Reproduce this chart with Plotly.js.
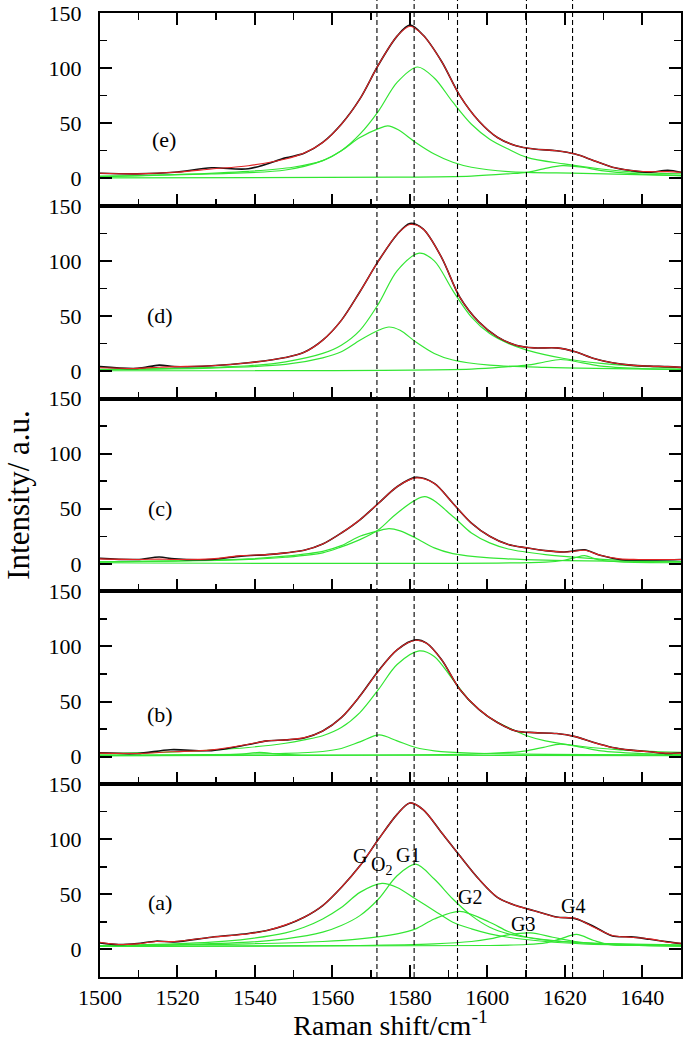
<!DOCTYPE html>
<html>
<head>
<meta charset="utf-8">
<script src="https://cdn.plot.ly/plotly-3.0.1.min.js"></script>
<style>html,body{margin:0;padding:0;background:#fff;}#chart{width:685px;height:1041px;}</style>
</head>
<body>
<div id="chart"></div>
<script>
// ---------- Panel (e) ----------
const eX = [1500,1509.6,1519.2,1528.8,1538.3,1547.9,1552.7,1557.5,1562.3,1567.1,1571.9,1576.7,1580,1583.4,1588.2,1592.9,1597.8,1602.6,1607.4,1612.1,1617.9,1622.7,1627.5,1632.3,1637.1,1641.9,1646.6,1650];
const eFit = [4.5,4,5.4,8.4,11.4,17.5,23,32.5,49,72,103,129,138,130,106,75,52,37,29.5,26.5,25,22,16,10,7,6,6,5.4];
const eRaw = [4.5,4,5.4,9.5,8.6,18.5,22.6,32.5,49,72,103,129,139,130,106,75,52,37,29.5,26.5,25,22,16,10,7,5.4,7.2,5.4];
const eG1x = [1500,1519.2,1538.3,1549.8,1557.5,1562.3,1567.1,1571.9,1576.7,1582,1586.3,1591.1,1595.9,1600.6,1605.4,1610.2,1619.8,1629.4,1639,1650];
const eG1y = [1.5,3.3,6.3,10,16,25,40,61,87,101,91,69,49,35.5,26.5,19,13,8.4,5.4,4];
const eG2x = [1500,1528.8,1547.9,1557.5,1562.3,1567.1,1571.9,1574.3,1577,1581.5,1586.3,1591.1,1595.9,1605.4,1624.6,1650];
const eG2y = [2,4,7.5,16,25,37,45,47.6,44,32.5,22,14.5,10,6,4.5,2.4];
const eG3x = [1500,1576.7,1595.9,1605.4,1610.2,1614.5,1619.3,1624.6,1629.4,1639,1650];
const eG3y = [0.3,1,2,4,5.4,8.5,11.4,10,7,4,2.4];

// ---------- Panel (d) ----------
const dX = [1500,1509.6,1515.3,1519.2,1528.8,1538.3,1547.9,1552.7,1557.5,1562.3,1567.1,1571.9,1576.7,1580,1583.4,1588.2,1592.9,1597.8,1602.6,1607.4,1612.1,1617.9,1622.7,1627.5,1632.3,1637.1,1641.9,1646.6,1650];
const dFit = [3,2.4,3.5,4,4.8,7.5,12.3,17,28,46,72,100,124,133,129,103,67,44.6,31,23.5,21,21,17.5,11.4,7.5,5.4,4.5,4,3.3];
const dRaw = [4,2.4,5.4,4,4.8,7.5,12.3,17,28,46,72,100,124,134,129,103,67,44.6,31,23.5,21,21,17.5,11.4,7.5,5.4,4.5,4,3.3];
const dG1x = [1500,1519.2,1538.3,1547.9,1557.5,1562.3,1567.1,1571.9,1576.7,1582.4,1586.3,1591.1,1595.9,1600.6,1605.4,1610.2,1619.8,1629.4,1639,1650];
const dG1y = [1,2.4,4.8,8.4,16,23.5,37,61,91,107,100,73,49,34,25,19,11.4,7,4.5,3];
const dG2x = [1500,1528.8,1547.9,1557.5,1562.3,1567.1,1571.9,1574.6,1577.5,1581.5,1586.3,1591.1,1600.6,1615,1650];
const dG2y = [1.5,2.7,6,12,17.5,28,37,40,37,26.5,16,10,5.4,3.3,1.5];
const dG3x = [1500,1595.9,1605.4,1610.2,1614.5,1618.9,1624.6,1629.4,1639,1650];
const dG3y = [0.3,1.8,4,5.4,8,10.5,7.5,4.5,2.4,1.5];

// ---------- Panel (c) ----------
const cX = [1500,1509.6,1515.3,1519.2,1528.8,1536.4,1543.1,1547.9,1552.7,1557.5,1562.3,1567.1,1571.9,1576.7,1581.5,1586.3,1591.1,1595.9,1600.6,1605.4,1610.2,1615,1619.8,1622.5,1625.1,1629.4,1634.2,1639,1650];
const cFit = [4.5,4,4.3,4,4.5,7.5,8.4,10,12.3,18,28,40,55,70,78,73,55,37,25,17.5,14.5,12,10.8,11.5,12.3,7.5,4.5,4,4];
const cRaw = [5,4,6.2,4.5,4,7,8.4,10,12.3,18,28,40,55,70,78.5,73,55,37,25,17.5,14.5,12,10.8,11.8,12.8,7.5,4,3.5,4];
const cG1x = [1500,1519.2,1538.3,1547.9,1557.5,1562.3,1567.1,1571.9,1576.7,1583.9,1591.1,1595.9,1600.6,1605.4,1615,1624.6,1634.2,1650];
const cG1y = [1.8,2.4,4,6,10,15.4,22,31,46,61,43,28,19,13.5,8.4,5.4,3.3,2];
const cG2x = [1500,1519.2,1538.3,1547.9,1557.5,1562.3,1567.1,1571.9,1574.6,1577.5,1581.5,1586.3,1591.1,1600.6,1615,1650];
const cG2y = [1.8,2.7,4.5,7,11.4,16.5,25,30,32,30,23.5,14.5,9.3,5.4,3.3,2];
const cG3x = [1500,1615,1619.8,1622.5,1625.1,1627.5,1629.4,1634.2,1650];
const cG3y = [1,1.6,3.3,5.5,7.5,5,3.3,1.8,1];

// ---------- Panel (b) ----------
const bX = [1500,1509.6,1518.2,1528.8,1538.3,1543.1,1547.9,1552.7,1557.5,1562.3,1567.1,1571.9,1576.7,1581.5,1584.3,1588.2,1592.9,1597.8,1602.6,1607.4,1612.1,1617.9,1622.7,1627.5,1632.3,1637.1,1641.9,1646.6,1650];
const bFit = [3.2,2.9,4.4,6.2,11.3,14.3,15.2,17.3,23.3,35.4,55,77.6,97,105.6,103,88,61,43,31,23.3,21.8,21,18.2,12.8,8.3,5.9,4.4,3.2,3.2];
const bRaw = [3.5,2.9,6.3,5.5,11,14.3,15.2,17,23.3,35.4,55,78,97,106,103,88,61,43,31,23.3,21.8,21,18.2,12.8,8.3,5.9,4.4,2.9,3.5];
const bG1x = [1500,1519.2,1528.8,1538.3,1547.9,1552.7,1557.5,1562.3,1567.1,1571.9,1576.7,1582.4,1586.3,1591.1,1595.9,1600.6,1605.4,1610.2,1615,1624.6,1634.2,1650];
const bG1y = [2.9,4.4,5.9,8.3,12.2,15.2,19,26.4,40,61,83.6,96,91,70,49,35.4,26.4,19,14.3,9.2,6.2,3.8];
const bG2x = [1500,1547.9,1557.5,1562.3,1567.1,1572.1,1576.7,1581.5,1586.3,1595.9,1650];
const bG2y = [1.7,2.9,4.7,7.4,13.4,19.7,14.3,8.3,5.3,3.2,1.7];
const bG3x = [1500,1530,1536.4,1541.2,1546,1552,1650];
const bG3y = [1,1.5,2.3,3.8,2.3,1.5,1];
const bG4x = [1500,1595.9,1605.4,1610.2,1614.5,1618.9,1624.6,1629.4,1639,1650];
const bG4y = [1,2.3,3.8,5.3,8.5,11.3,8.3,5.3,2.9,1.7];

// ---------- Panel (a) ----------
const aX = [1500,1504.8,1509.6,1514.4,1519.2,1528.8,1538.3,1543.1,1547.9,1552.7,1557.5,1562.3,1567.1,1571.9,1576.7,1580,1583.4,1588.2,1592.9,1597.8,1602.6,1607.4,1612.1,1617.9,1622.7,1627.5,1632.3,1637.1,1641.9,1646.6,1650];
const aFit = [6.6,4.5,5.1,7.2,7.2,11.1,14.2,17.2,22.3,29.2,39.8,56.3,75.9,100,122.6,133,127,106,85,63.9,47.3,39.8,35.2,29.2,28.3,20.2,12.7,11.1,9.6,6.6,5.7];
const aRaw = [6,4.5,5.4,7.5,6.9,11.1,14.5,17.2,22,29.2,39.8,56.3,75.9,100,122.6,133,127,106,85,63.9,47.3,39.8,35.2,29.5,28,20.8,12.2,11.4,9.2,6.9,5.4];
const aGO2x = [1500,1519.2,1528.8,1538.3,1547.9,1552.7,1557.5,1562.3,1567.1,1572.8,1576.7,1581.5,1586.3,1591.1,1595.9,1600.6,1605.4,1615,1624.6,1634.2,1650];
const aGO2y = [3.6,5.1,6.6,9.6,15,20.2,27.7,38,51.8,60,56.3,45.8,35.2,24.7,18.7,14.2,11.1,7.2,5.1,4.2,3];
const aG1x = [1500,1519.2,1538.3,1547.9,1557.5,1562.3,1567.1,1571.9,1576.7,1581.5,1586.3,1591.1,1595.9,1600.6,1605.4,1610.2,1619.8,1634.2,1650];
const aG1y = [3,4.2,6.6,9.6,15.7,21.7,30.7,45.8,66.9,77.4,63.9,45.8,30.7,20.2,14.2,11.1,7.2,4.8,3.6];
const aG2x = [1500,1538.3,1557.5,1567.1,1576.7,1581.5,1586.3,1592.9,1600.6,1605.4,1610.2,1615,1624.6,1650];
const aG2y = [3.6,5.1,7.2,9.6,14.2,18.7,27.7,34.6,24.7,16.3,11.1,8.4,6,4.2];
const aG3x = [1500,1567.1,1586.3,1595.9,1600.6,1605.4,1611.2,1616.9,1622.7,1629.4,1639,1650];
const aG3y = [2.7,3.6,5.1,7.2,9.6,13.3,15,11.1,7.2,4.8,3.6,3.3];
const aG4x = [1500,1600.6,1610.2,1615,1618.9,1623,1627.5,1631.3,1639,1650];
const aG4y = [2.7,3.6,4.5,6,9.6,13.6,8.1,4.5,3.6,3.3];

// labels and reference lines
const panelLabels = ['(a)','(b)','(c)','(d)','(e)'];
const panelLabelX = [1515.6,1515.6,1515.6,1515.6,1516.5];
const panelLabelY = [42.8,38.4,50.6,50.6,35.5];
const peakNames = ['G','O<sub>2</sub>','G1','G2','G3','G4'];
const peakNameX = [1567.2,1572.6,1579.6,1595.6,1609.3,1622.2];
const peakNameY = [85,76,86,47.5,23.5,39.5];
const dashedX = [1571.5,1581.1,1592.3,1610.1,1622.0];

// ---------- build ----------
const GREEN = '#33e633', RED = '#e02525', BLACK = '#111';
const panels = [
  {raw:[aX,aRaw], fit:[aX,aFit], greens:[[aGO2x,aGO2y],[aG1x,aG1y],[aG2x,aG2y],[aG3x,aG3y],[aG4x,aG4y]]},
  {raw:[bX,bRaw], fit:[bX,bFit], greens:[[bG1x,bG1y],[bG2x,bG2y],[bG3x,bG3y],[bG4x,bG4y]]},
  {raw:[cX,cRaw], fit:[cX,cFit], greens:[[cG1x,cG1y],[cG2x,cG2y],[cG3x,cG3y]]},
  {raw:[dX,dRaw], fit:[dX,dFit], greens:[[dG1x,dG1y],[dG2x,dG2y],[dG3x,dG3y]]},
  {raw:[eX,eRaw], fit:[eX,eFit], greens:[[eG1x,eG1y],[eG2x,eG2y],[eG3x,eG3y]]}
];
const FONT = '"Liberation Serif", "Times New Roman", serif';
const traces = [];
const layout = {
  width:685, height:1041, showlegend:false,
  paper_bgcolor:'#fff', plot_bgcolor:'#fff',
  margin:{l:100, r:4, t:13, b:64, pad:0},
  font:{family:FONT, color:'#000', size:21},
  shapes:[], annotations:[]
};
panels.forEach((p,i)=>{
  const sfx = i===0 ? '' : String(i+1);
  const xa = 'x'+sfx, ya = 'y'+sfx;
  p.greens.forEach(g=>traces.push({x:g[0], y:g[1], xaxis:xa, yaxis:ya, mode:'lines', line:{color:GREEN, width:1.2, shape:'spline', smoothing:0.9}, hoverinfo:'skip'}));
  traces.push({x:p.raw[0], y:p.raw[1], xaxis:xa, yaxis:ya, mode:'lines', line:{color:BLACK, width:1.6, shape:'spline', smoothing:0.9}, hoverinfo:'skip'});
  traces.push({x:p.fit[0], y:p.fit[1], xaxis:xa, yaxis:ya, mode:'lines', line:{color:RED, width:1.1, shape:'spline', smoothing:0.9}, hoverinfo:'skip'});
  const d0 = i/5, d1 = (i+1)/5;
  const xax = {
    domain:[0,1], anchor:ya, range:[1500,1650], dtick:20, tick0:1500,
    ticks:'inside', ticklen:12, tickwidth:2, tickcolor:'#000',
    minor:{dtick:10, tick0:1500, ticks:'inside', ticklen:7, tickwidth:1.5, tickcolor:'#000'},
    showline:true, linewidth:2, linecolor:'#000', mirror: i===4 ? 'ticks' : true,
    showgrid:false, zeroline:false,
    showticklabels: i===0, ticklabelstandoff:0,
    tickfont:{family:FONT, size:22, color:'#000'}
  };
  if(i>0) xax.matches = 'x';
  if(i===0){
    xax.title = {text:'Raman shift/cm<sup>-1</sup>', font:{family:FONT, size:28, color:'#000'}, standoff:3};
  }
  layout['xaxis'+sfx] = xax;
  layout['yaxis'+sfx] = {
    domain:[d0,d1], anchor:xa, range:[-25,150], dtick:50, tick0:0,
    ticks:'inside', ticklen:12, tickwidth:2, tickcolor:'#000',
    minor:{dtick:25, tick0:0, ticks:'inside', ticklen:7, tickwidth:1.5, tickcolor:'#000'},
    showline:true, linewidth:2, linecolor:'#000', mirror:'ticks',
    showgrid:false, zeroline:false, ticklabelstandoff:12,
    tickfont:{family:FONT, size:22, color:'#000'}
  };
  if(i===2){
    layout['yaxis'+sfx].title = {text:'Intensity/ a.u.', font:{family:FONT, size:31, color:'#000'}, standoff:10};
  }
  layout.annotations.push({x:panelLabelX[i], y:panelLabelY[i], xref:xa, yref:ya, text:panelLabels[i], showarrow:false, font:{family:FONT, size:22, color:'#000'}});
});
peakNames.forEach((t,k)=>{
  layout.annotations.push({x:peakNameX[k], y:peakNameY[k], xref:'x', yref:'y', text:t, showarrow:false, font:{family:FONT, size:20, color:'#000'}});
});
dashedX.forEach(xv=>{
  layout.shapes.push({type:'line', xref:'x', yref:'paper', x0:xv, x1:xv, y0:0, y1:1.014, line:{color:'#000', width:1.1, dash:'5px,3px'}, layer:'above'});
});
Plotly.newPlot('chart', traces, layout, {staticPlot:true, displayModeBar:false});
</script>
</body>
</html>
